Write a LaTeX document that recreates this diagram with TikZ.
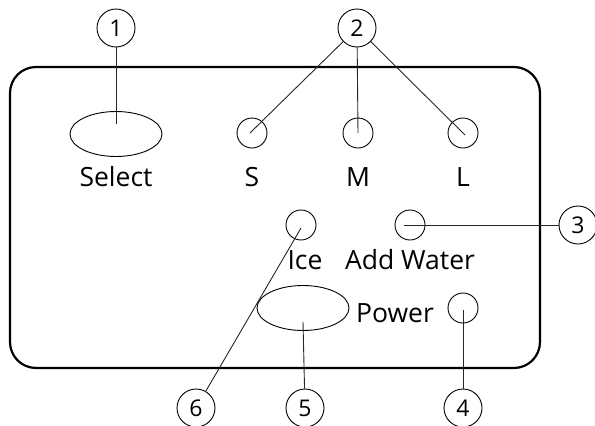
\documentclass[tikz,border=0pt]{standalone}
\usepackage{fontspec}
\setmainfont{Open Sans}
\usetikzlibrary{shapes.geometric}
\begin{document}
\begin{tikzpicture}[x=1pt,y=-1pt,
  callout/.style={circle,draw,line width=0.9pt,minimum size=38pt,inner sep=0pt,font=\fontsize{23}{23}\selectfont},
  led/.style={circle,draw,line width=0.9pt,minimum size=30pt,inner sep=0pt},
  btn/.style={ellipse,draw,line width=0.9pt,minimum width=92pt,minimum height=45pt,inner sep=0pt},
  lbl/.style={anchor=base,font=\fontsize{26.5}{26.5}\selectfont,inner sep=0pt},
  lead/.style={line width=0.9pt,draw=black!85}]
\useasboundingbox (0,0) rectangle (595,426);
\draw[line width=2.2pt,rounded corners=26pt] (10,67) rectangle (540,368);
% controls
\node[btn] (sel) at (116,134) {};
\node[lbl] (selt) at (116,186) {Select};
\node[led] (s) at (252,133) {};
\node[led] (m) at (358,133) {};
\node[led] (l) at (463,133) {};
\node[lbl] (st) at (252,186) {S};
\node[lbl] (mt) at (358,186) {M};
\node[lbl] (lt) at (463,186) {L};
\node[led] (ice) at (301,225) {};
\node[led] (aw) at (410,225) {};
\node[lbl] (icet) at (305,269) {Ice};
\node[lbl] (awt) at (410,269) {Add Water};
\node[btn] (pw) at (303,308) {};
\node[lbl] (pwt) at (395,322) {Power};
\node[led] (pl) at (463,308) {};
% callouts
\node[callout] (c1) at (116,28) {1};
\node[callout] (c2) at (357,28) {2};
\node[callout] (c3) at (578,225) {3};
\node[callout] (c4) at (463,408) {4};
\node[callout] (c5) at (305,408) {5};
\node[callout] (c6) at (196,408) {6};
% leaders
\draw[lead] (c1) -- ([yshift=10pt]sel.center);
\draw[lead] (c2) -- ([xshift=-2pt]s.center);
\draw[lead] (c2) -- (m.center);
\draw[lead] (c2) -- ([xshift=2pt,yshift=-2pt]l.center);
\draw[lead] (c3) -- ([xshift=-6pt]aw.center);
\draw[lead] (c4) -- ([yshift=-2pt]pl.center);
\draw[lead] (c5) -- ([yshift=-14pt]pw.center);
\draw[lead] (c6) -- ([yshift=-3pt]ice.center);
\end{tikzpicture}
\end{document}
